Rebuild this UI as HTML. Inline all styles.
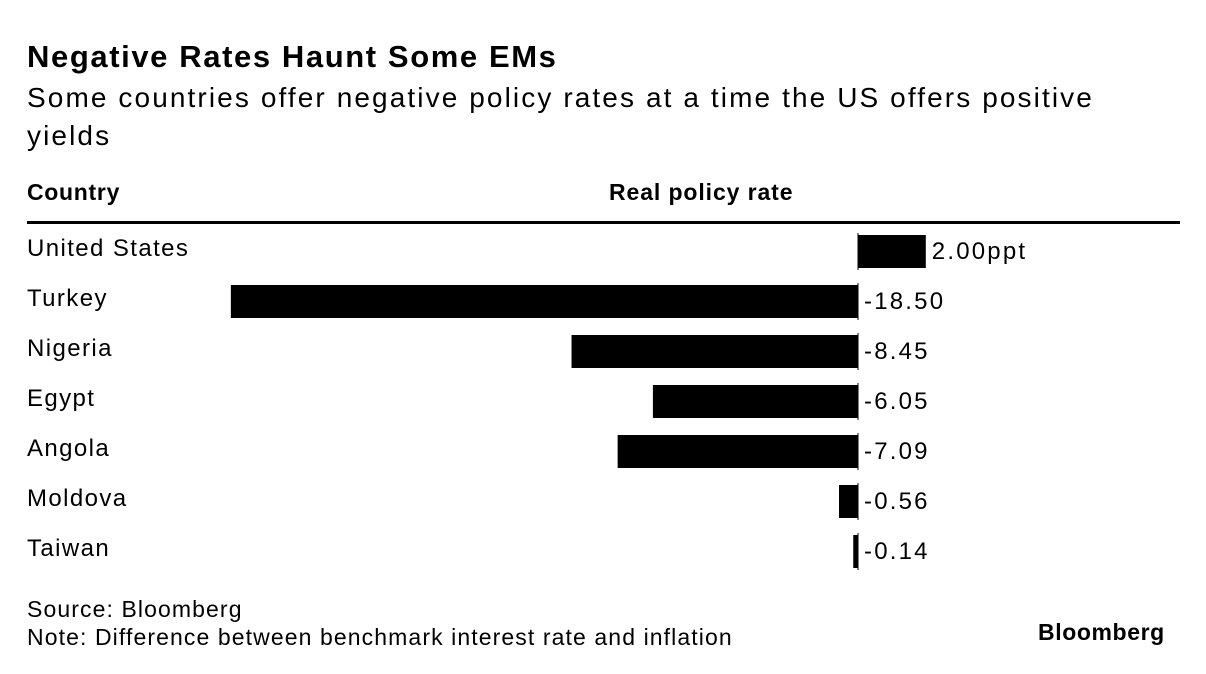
<!DOCTYPE html>
<html><head><meta charset="utf-8"><style>
body{margin:0;width:1206px;height:674px;background:#fff;font-family:"Liberation Sans",sans-serif;color:#000;position:relative;overflow:hidden}
.t{position:absolute;white-space:nowrap}
</style></head><body>
<div class="t" style="left:27px;top:39px;font-size:31px;font-weight:bold;letter-spacing:1.6px">Negative Rates Haunt Some EMs</div>
<div class="t" style="left:27px;top:79px;font-size:28px;line-height:38px;white-space:normal;width:1130px;letter-spacing:2.1px">Some countries offer negative policy rates at a time the US offers positive yields</div>
<div class="t" style="left:27px;top:179px;font-size:23px;font-weight:bold;letter-spacing:0.7px">Country</div>
<div class="t" style="left:609px;top:179px;font-size:23px;font-weight:bold;letter-spacing:0.9px">Real policy rate</div>
<div style="position:absolute;left:27px;top:221px;width:1153px;height:3px;background:#000"></div>
<svg id="chart" width="1206" height="674" style="position:absolute;left:0;top:0"></svg>
<div class="t" style="left:27px;top:596px;font-size:23px;letter-spacing:1.1px">Source: Bloomberg</div>
<div class="t" style="left:27px;top:624px;font-size:23px;letter-spacing:1.1px">Note: Difference between benchmark interest rate and inflation</div>
<div class="t" style="left:1038px;top:619px;font-size:23px;font-weight:bold;letter-spacing:0.6px">Bloomberg</div>
<script>
const countries=["United States","Turkey","Nigeria","Egypt","Angola","Moldova","Taiwan"];
const values=[2.00,-18.50,-8.45,-6.05,-7.09,-0.56,-0.14];
const labels=["2.00ppt","-18.50","-8.45","-6.05","-7.09","-0.56","-0.14"];
const svg=document.getElementById('chart');
const NS='http://www.w3.org/2000/svg';
const x0=858, k=33.9;
const xs=v=>x0+v*k;
const yc=i=>251+i*50;
countries.forEach((c,i)=>{
  const t=document.createElementNS(NS,'text');
  
  
  t.setAttribute('x',27);t.setAttribute('y',yc(i)+5);
  t.setAttribute('font-size','24');t.setAttribute('letter-spacing','1.4');t.textContent=c;svg.appendChild(t);
  const v=values[i];
  const r=document.createElementNS(NS,'rect');
  
  
  const a=Math.min(xs(0),xs(v)),w=Math.max(Math.abs(xs(v)-xs(0)),2);
  r.setAttribute('x',a);r.setAttribute('y',yc(i)-16);r.setAttribute('width',w);r.setAttribute('height',33);
  svg.appendChild(r);
  const z=document.createElementNS(NS,'line');
  
  
  z.setAttribute('x1',x0);z.setAttribute('x2',x0);z.setAttribute('y1',yc(i)-18);z.setAttribute('y2',yc(i)+19);
  z.setAttribute('stroke','#000');z.setAttribute('stroke-width','1');svg.appendChild(z);
  const l=document.createElementNS(NS,'text');
  
  
  l.setAttribute('x',Math.max(xs(v),xs(0))+6);l.setAttribute('y',yc(i)+8);
  l.setAttribute('font-size','24');l.setAttribute('letter-spacing','2.2');l.textContent=labels[i];svg.appendChild(l);
});
</script>
</body></html>
